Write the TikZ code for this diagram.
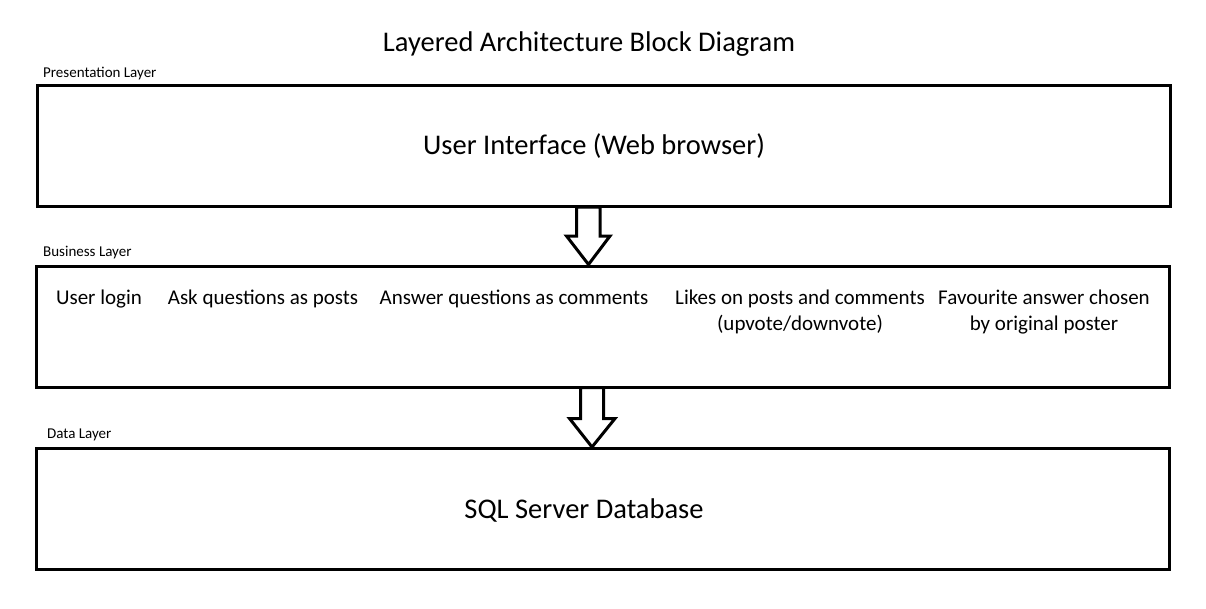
\documentclass[tikz,border=0pt]{standalone}
\usepackage{fontspec}
\setmainfont{Carlito}
\usetikzlibrary{positioning,calc}

\tikzset{
  layer/.style={draw, line width=3pt, minimum width=1133pt, minimum height=121pt, inner sep=0pt},
  bigtext/.style={font=\fontsize{28.5}{34}\selectfont, inner sep=0pt, anchor=base},
  item/.style={font=\fontsize{21}{26}\selectfont, align=center, inner sep=0pt, anchor=base},
  layername/.style={font=\fontsize{15}{18}\selectfont, inner sep=0pt, anchor=base west},
  blockarrow/.style={draw, line width=3pt, fill=white, miter limit=10}
}

\begin{document}
\begin{tikzpicture}[x=1pt,y=-1pt]
\useasboundingbox (0,0) rectangle (1206,608);

\node[bigtext] (title) at (589,51) {Layered Architecture Block Diagram};

% layers
\node[layer] (pres) at (603.5,146) {};
\node[layer] (busi) at (602.5,326.5) {};
\node[layer] (data) at (603,509) {};

\node[layername] (presname) at (43,77) {Presentation Layer};
\node[layername] (businame) at (43,256) {Business Layer};
\node[layername] (dataname) at (47,438) {Data Layer};

\node[bigtext] (ui) at (594,154) {User Interface (Web browser)};
\node[bigtext] (db) at (584,518) {SQL Server Database};

% base of a two-line item is its last line
\foreach \i / \x / \y / \element in {1/99/304/{User login},2/263/304/{Ask questions as posts},3/514/304/{Answer questions as comments},4/800/330/{Likes on posts and comments\\(upvote/downvote)},5/1044/330/{Favourite answer chosen\\by original poster}}
  \node[item] (b\i) at (\x,\y) {\element};

% arrows between layers
\coordinate (a1) at (588.5,0);
\coordinate (a2) at (592,0);
\draw[blockarrow] ($(a1 |- pres.south)+(-12,-1)$) -- ++(0,29) -- ++(-10,0)
  -- (a1 |- busi.north) -- ($(a1 |- pres.south)+(21.5,28)$) -- ++(-10,0) -- ++(0,-29) -- cycle;
\draw[blockarrow] ($(a2 |- busi.south)+(-11.5,-1)$) -- ++(0,31) -- ++(-11,0)
  -- (a2 |- data.north) -- ($(a2 |- busi.south)+(23,30)$) -- ++(-11.5,0) -- ++(0,-31) -- cycle;

\end{tikzpicture}
\end{document}
